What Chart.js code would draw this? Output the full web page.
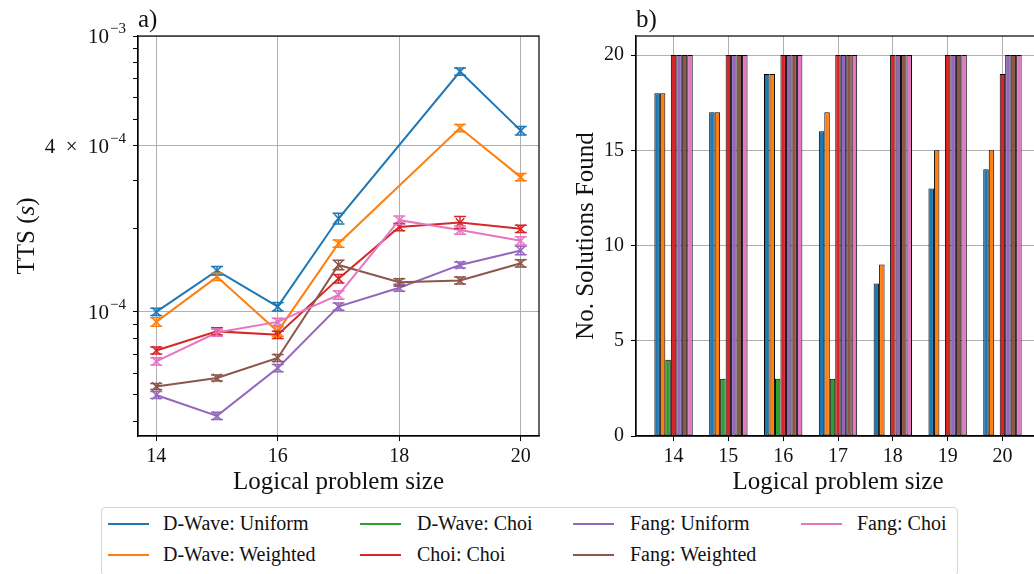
<!DOCTYPE html>
<html>
<head>
<meta charset="utf-8">
<script src="https://cdn.jsdelivr.net/npm/chart.js@4.4.0/dist/chart.umd.min.js"></script>
<style>
  body { margin: 0; width: 1034px; height: 574px; overflow: hidden; background: #fff; position: relative; }
  #ttsChart { position: absolute; left: 0; top: 0; }
  #solChart { position: absolute; left: 560px; top: 0; }
  #legend { position: absolute; left: 101px; top: 507px; width: 857px; height: 69px; border: 1px solid #d6d6d6; border-radius: 4px; box-sizing: border-box; }
  .swatch { position: absolute; width: 41px; height: 2px; }
  .lbl { position: absolute; height: 24px; line-height: 24px; font: 20px 'Liberation Serif', serif; color: #111; white-space: nowrap; }
</style>
</head>
<body>
<canvas id="ttsChart" width="560" height="500"></canvas>
<canvas id="solChart" width="490" height="500"></canvas>
<div id="legend"></div>
<script>
    const serif = "'Liberation Serif', serif";
    const ink = '#111';

    // problem sizes (x axis of both panels)
    const sizes = [14, 15, 16, 17, 18, 19, 20];

    // a) time to solution, seconds (null = no point)
    const ttsDwUniform    = [1.00e-4, 1.41e-4, 1.045e-4, 2.18e-4, null, 7.43e-4, 4.54e-4];
    const ttsDwWeighted   = [0.92e-4, 1.34e-4, 0.85e-4, 1.77e-4, null, 4.64e-4, 3.08e-4];
    const ttsChoiChoi     = [0.725e-4, 0.85e-4, 0.826e-4, 1.32e-4, 2.03e-4, 2.11e-4, 2.00e-4];
    const ttsFangUniform  = [0.50e-4, 0.42e-4, 0.626e-4, 1.045e-4, 1.224e-4, 1.48e-4, 1.67e-4];
    const ttsFangWeighted = [0.537e-4, 0.576e-4, 0.681e-4, 1.48e-4, 1.28e-4, 1.30e-4, 1.50e-4];
    const ttsFangChoi     = [0.662e-4, 0.842e-4, 0.92e-4, 1.152e-4, 2.15e-4, 1.98e-4, 1.81e-4];

    // relative error bar half-heights
    const errDwUniform    = [0.03, 0.035, 0.035, 0.045, null, 0.03, 0.035];
    const errDwWeighted   = [0.035, 0.03, 0.04, 0.03, null, 0.03, 0.03];
    const errChoiChoi     = [0.03, 0.03, 0.03, 0.035, 0.03, 0.05, 0.03];
    const errFangUniform  = [0.03, 0.03, 0.03, 0.03, 0.03, 0.025, 0.035];
    const errFangWeighted = [0.025, 0.025, 0.03, 0.04, 0.03, 0.03, 0.03];
    const errFangChoi     = [0.03, 0.03, 0.03, 0.035, 0.035, 0.035, 0.035];

    // log axis ticks (labels are mantissa + superscript exponent)
    const ttsMinorTicks = [4e-5, 5e-5, 6e-5, 7e-5, 8e-5, 9e-5, 2e-4, 3e-4, 5e-4, 6e-4, 7e-4, 8e-4, 9e-4];
    const ttsLabelTicks = [1e-4, 4e-4, 1e-3];
    const ttsTickBase   = ['10', '4\u2002\u00D7\u200210', '10'];
    const ttsTickExp    = ['\u22124', '\u22124', '\u22123'];

    // b) number of solutions found
    const solDwUniform    = [18, 17, 19, 16, 8, 13, 14];
    const solDwWeighted   = [18, 17, 19, 17, 9, 15, 15];
    const solDwChoi       = [4, 3, 3, 3, 0, 0, 0];
    const solChoiChoi     = [20, 20, 20, 20, 20, 20, 19];
    const solFangUniform  = [20, 20, 20, 20, 20, 20, 20];
    const solFangWeighted = [20, 20, 20, 20, 20, 20, 20];
    const solFangChoi     = [20, 20, 20, 20, 20, 20, 20];
    const solTicks = [0, 5, 10, 15, 20];

    const names = ['D-Wave: Uniform', 'D-Wave: Weighted', 'D-Wave: Choi', 'Choi: Choi',
                   'Fang: Uniform', 'Fang: Weighted', 'Fang: Choi'];
    const colors = ['#1f77b4', '#ff7f0e', '#2ca02c', '#d62728', '#9467bd', '#8c564b', '#e377c2'];

    const pts = vals => sizes.map((s, i) => ({x: s, y: vals[i]}));

    // draws error bars with caps on the log chart
    const errorBars = {
      id: 'errorBars',
      afterDatasetsDraw(chart) {
        const {ctx, scales: {y}} = chart;
        chart.data.datasets.forEach((ds, di) => {
          const meta = chart.getDatasetMeta(di);
          ctx.save();
          ctx.strokeStyle = ds.borderColor;
          ctx.lineWidth = 1.5;
          meta.data.forEach((pt, i) => {
            const v = ds.data[i].y;
            if (v == null) return;
            const e = ds.errs[i];
            const top = y.getPixelForValue(v * (1 + e));
            const bot = y.getPixelForValue(v * (1 - e));
            ctx.beginPath();
            ctx.moveTo(pt.x, top); ctx.lineTo(pt.x, bot);
            ctx.moveTo(pt.x - 6, top); ctx.lineTo(pt.x + 6, top);
            ctx.moveTo(pt.x - 6, bot); ctx.lineTo(pt.x + 6, bot);
            ctx.stroke();
          });
          ctx.restore();
        });
      }
    };

    // y labels like 10^-4 with a real superscript, and the TTS (s) title
    const logLabels = {
      id: 'logLabels',
      afterDraw(chart) {
        const {ctx, scales: {y}, chartArea} = chart;
        ctx.save();
        ctx.fillStyle = ink;
        ctx.textAlign = 'left';
        ctx.textBaseline = 'alphabetic';
        ttsLabelTicks.forEach((t, i) => {
          const py = y.getPixelForValue(t);
          ctx.font = '15px ' + serif;
          const ew = ctx.measureText(ttsTickExp[i]).width;
          ctx.font = '21px ' + serif;
          const bw = ctx.measureText(ttsTickBase[i]).width;
          const xr = 126;
          ctx.fillText(ttsTickBase[i], xr - ew - bw - 1, py + 7);
          ctx.font = '15px ' + serif;
          ctx.fillText(ttsTickExp[i], xr - ew, py - 3);
        });

        // rotated title with italic s
        const parts = [['TTS (', ''], ['s', 'italic '], [')', '']];
        ctx.translate(27, (chartArea.top + chartArea.bottom) / 2);
        ctx.rotate(-Math.PI / 2);
        ctx.textBaseline = 'middle';
        let total = 0;
        parts.forEach(([s, st]) => { ctx.font = st + '25px ' + serif; total += ctx.measureText(s).width; });
        let x = -total / 2;
        parts.forEach(([s, st]) => {
          ctx.font = st + '25px ' + serif;
          ctx.fillText(s, x, 0);
          x += ctx.measureText(s).width;
        });
        ctx.restore();
      }
    };

    // axes box + panel letter
    const frame = {
      id: 'frame',
      afterDraw(chart, args, opts) {
        const {ctx, chartArea: {left, top, right, bottom}} = chart;
        ctx.save();
        ctx.strokeStyle = '#000';
        ctx.lineWidth = 1.2;
        ctx.strokeRect(left, top, right - left, bottom - top);
        ctx.fillStyle = ink;
        ctx.font = '25px ' + serif;
        ctx.textAlign = 'left';
        ctx.textBaseline = 'alphabetic';
        ctx.fillText(opts.label, left, 27);
        ctx.restore();
      }
    };

    const tickFont = {family: serif, size: 20};
    const titleFont = {family: serif, size: 25};

    // LEFT: TTS line chart
    const ttsSeries = [
      [0, ttsDwUniform, errDwUniform],
      [1, ttsDwWeighted, errDwWeighted],
      [3, ttsChoiChoi, errChoiChoi],
      [4, ttsFangUniform, errFangUniform],
      [5, ttsFangWeighted, errFangWeighted],
      [6, ttsFangChoi, errFangChoi],
    ];

    let ttsChart = new Chart('ttsChart', {
      type: 'line',
      data: {
        datasets: ttsSeries.map(([k, vals, errs], j) => ({
          label: names[k],
          data: pts(vals),
          errs: errs,
          borderColor: colors[k],
          backgroundColor: colors[k],
          borderWidth: 2,
          pointStyle: 'crossRot',
          pointRadius: 6,
          pointBorderWidth: 1.5,
          spanGaps: true,
          tension: 0,
          order: 10 - j,
        })),
      },
      options: {
        responsive: false,
        animation: false,
        layout: { padding: { top: 36, right: 21, left: 0, bottom: 0 } },
        plugins: {
          legend: { display: false },
          tooltip: { enabled: false },
          frame: { label: 'a)' },
        },
        scales: {
          x: {
            type: 'linear',
            min: 13.7,
            max: 20.3,
            afterBuildTicks: s => { s.ticks = [14, 16, 18, 20].map(v => ({value: v})); },
            afterFit: s => { s.height = 64; },
            grid: { color: '#b0b0b0', lineWidth: 1, tickColor: '#000', tickLength: 5 },
            border: { color: '#000', width: 1.2 },
            ticks: { font: tickFont, color: ink, padding: 4, autoSkip: false, maxRotation: 0 },
            title: { display: true, text: 'Logical problem size', font: titleFont, color: ink, padding: { top: 0, bottom: 3 } },
          },
          y: {
            type: 'logarithmic',
            min: 3.55e-5,
            max: 1e-3,
            afterBuildTicks: s => {
              s.ticks = ttsMinorTicks.concat(ttsLabelTicks).sort((a, b) => a - b).map(v => ({value: v}));
            },
            afterFit: s => { s.width = 138; },
            grid: {
              color: c => ttsLabelTicks.some(t => Math.abs(c.tick.value - t) / t < 1e-6) ? '#b0b0b0' : 'rgba(0,0,0,0)',
              lineWidth: 1,
              tickColor: '#000',
              tickLength: 5,
            },
            border: { color: '#000', width: 1.2 },
            ticks: { autoSkip: false, callback: () => '' },
          },
        },
      },
      plugins: [errorBars, logLabels, frame],
    });

    // RIGHT: solutions found bar chart
    const solSeries = [solDwUniform, solDwWeighted, solDwChoi, solChoiChoi, solFangUniform, solFangWeighted, solFangChoi];

    let solChart = new Chart('solChart', {
      type: 'bar',
      data: {
        datasets: solSeries.map((vals, k) => ({
          label: names[k],
          data: pts(vals),
          backgroundColor: colors[k],
          borderColor: '#000',
          borderWidth: 1,
          borderSkipped: false,
          categoryPercentage: 0.7,
          barPercentage: 1.0,
        })),
      },
      options: {
        responsive: false,
        animation: false,
        layout: { padding: { top: 36, right: 10, left: 0, bottom: 0 } },
        plugins: {
          legend: { display: false },
          tooltip: { enabled: false },
          frame: { label: 'b)' },
        },
        scales: {
          x: {
            type: 'linear',
            offset: false,
            min: 13.315,
            max: 20.685,
            afterBuildTicks: s => { s.ticks = sizes.map(v => ({value: v})); },
            afterFit: s => { s.height = 64; },
            grid: { offset: false, color: '#b0b0b0', lineWidth: 1, tickColor: '#000', tickLength: 5 },
            border: { color: '#000', width: 1.2 },
            ticks: { font: tickFont, color: ink, padding: 4, autoSkip: false, maxRotation: 0 },
            title: { display: true, text: 'Logical problem size', font: titleFont, color: ink, padding: { top: 0, bottom: 3 } },
          },
          y: {
            min: 0,
            max: 21,
            afterBuildTicks: s => { s.ticks = solTicks.map(v => ({value: v})); },
            afterFit: s => { s.width = 76; },
            grid: { color: '#b0b0b0', lineWidth: 1, tickColor: '#000', tickLength: 5 },
            border: { color: '#000', width: 1.2 },
            ticks: { font: tickFont, color: ink, padding: 7, autoSkip: false },
            title: { display: true, text: 'No. Solutions Found', font: titleFont, color: ink, padding: { top: 11 } },
          },
        },
      },
      plugins: [frame],
    });

    // legend, filled column by column like matplotlib's ncol=4
    const legendLineX = [108, 360, 573, 801];
    const legendTextX = [163, 417, 630, 857];
    const legendRowY = [524, 555];
    const legend = document.getElementById('legend');
    names.forEach((name, i) => {
      const col = Math.floor(i / 2), row = i % 2;
      const sw = document.createElement('div');
      sw.className = 'swatch';
      sw.style.left = (legendLineX[col] - 102) + 'px';
      sw.style.top = (legendRowY[row] - 508 - 1) + 'px';
      sw.style.background = colors[i];
      legend.appendChild(sw);
      const tx = document.createElement('div');
      tx.className = 'lbl';
      tx.style.left = (legendTextX[col] - 102) + 'px';
      tx.style.top = (legendRowY[row] - 508 - 12) + 'px';
      tx.textContent = name;
      legend.appendChild(tx);
    });
</script>
</body>
</html>
